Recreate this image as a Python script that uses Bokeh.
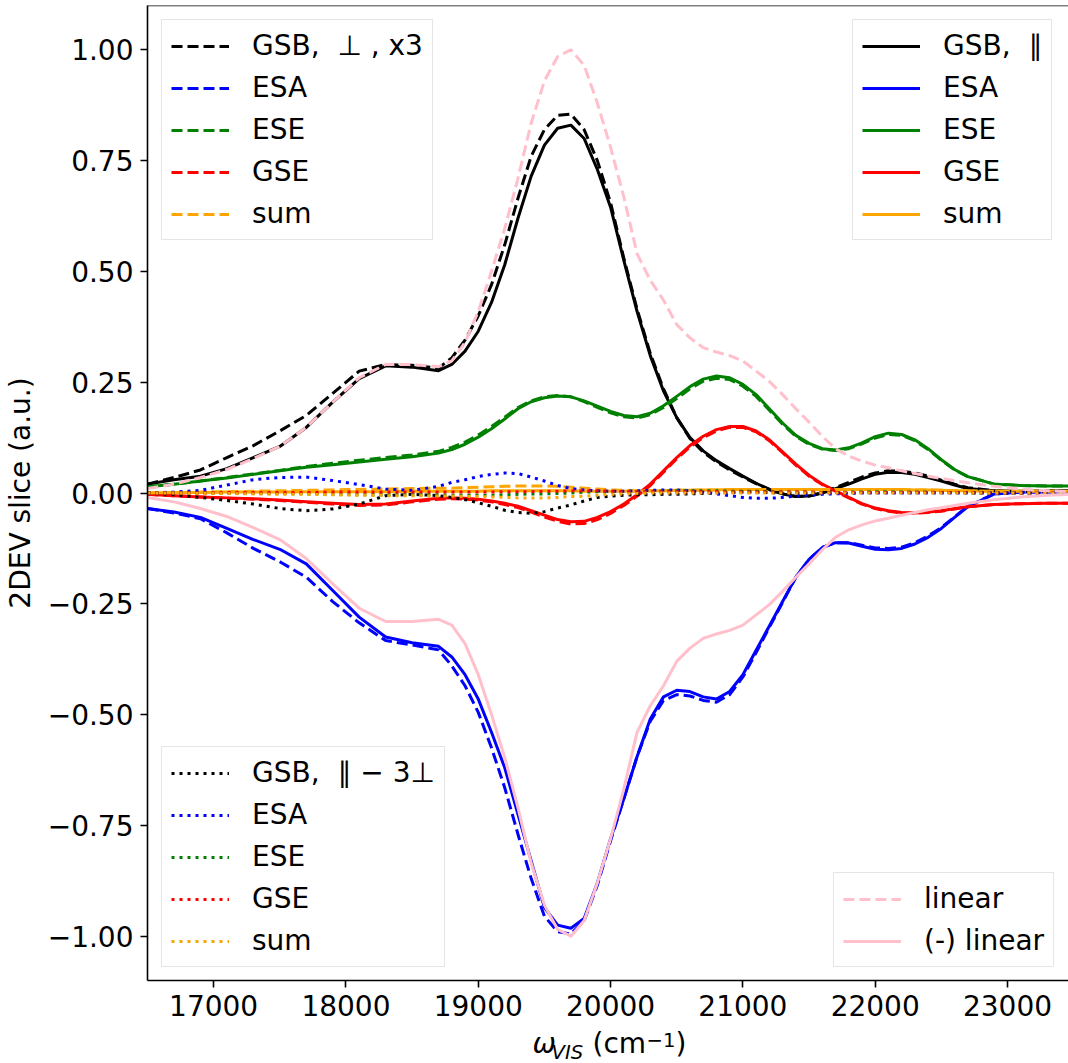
from bokeh.plotting import figure
from bokeh.layouts import column
from bokeh.models import Range1d, FixedTicker, Legend, LegendItem, Label, Span
from bokeh.embed import file_html
from bokeh.resources import INLINE

# ---------------- data ----------------
wavenumber = [16500, 16700, 16900, 17100, 17300, 17500, 17700, 17900, 18100, 18300, 18500, 18700,
              18800, 18900, 19000, 19100, 19200, 19300, 19400, 19500, 19600, 19700,
              19800, 19900, 20000, 20100, 20200, 20300, 20400, 20500, 20600, 20700,
              20800, 20900, 21000, 21100, 21200, 21300, 21400, 21500, 21600, 21700,
              21800, 21900, 22000, 22100, 22200, 22300, 22400, 22500, 22600,
              22700, 22900, 23100, 23300, 23500]

gsb_par = [0.02, 0.03, 0.038, 0.055, 0.08, 0.105, 0.148, 0.205, 0.258, 0.287, 0.284, 0.276,
           0.29, 0.32, 0.365, 0.43, 0.515, 0.62, 0.715, 0.785, 0.823, 0.83,
           0.8, 0.73, 0.645, 0.525, 0.41, 0.31, 0.23, 0.17, 0.125, 0.095,
           0.073, 0.055, 0.038, 0.022, 0.008, -0.002, -0.008, -0.007, 0.0, 0.01,
           0.02, 0.032, 0.042, 0.047, 0.046, 0.042, 0.035, 0.027, 0.018,
           0.01, 0.005, 0.004, 0.005, 0.005]
esa_par = [-0.035, -0.043, -0.055, -0.08, -0.105, -0.127, -0.16, -0.22, -0.28, -0.325, -0.338, -0.346,
           -0.37, -0.41, -0.465, -0.54, -0.62, -0.725, -0.83, -0.935, -0.975, -0.982,
           -0.96, -0.88, -0.78, -0.69, -0.595, -0.51, -0.46, -0.445, -0.448, -0.46,
           -0.465, -0.448, -0.41, -0.355, -0.3, -0.245, -0.19, -0.15, -0.123, -0.112,
           -0.113, -0.12, -0.127, -0.128, -0.125, -0.115, -0.1, -0.08, -0.055,
           -0.031, -0.002, 0.002, 0.002, 0.002]
ese_par = [0.014, 0.02, 0.027, 0.034, 0.042, 0.05, 0.058, 0.064, 0.07, 0.076, 0.082, 0.09,
           0.098, 0.11, 0.126, 0.145, 0.167, 0.19, 0.206, 0.215, 0.219, 0.217,
           0.208, 0.196, 0.184, 0.175, 0.172, 0.18, 0.197, 0.218, 0.24, 0.257,
           0.264, 0.26, 0.245, 0.222, 0.19, 0.158, 0.13, 0.112, 0.1, 0.097,
           0.102, 0.113, 0.127, 0.135, 0.132, 0.12, 0.1, 0.075, 0.053,
           0.037, 0.02, 0.017, 0.016, 0.016]
gse_par = [-0.003, -0.006, -0.009, -0.011, -0.013, -0.016, -0.02, -0.023, -0.026, -0.025, -0.018, -0.012,
           -0.011, -0.012, -0.014, -0.018, -0.023, -0.03, -0.04, -0.05, -0.06, -0.065,
           -0.064, -0.055, -0.042, -0.025, -0.004, 0.02, 0.05, 0.08, 0.107, 0.128,
           0.143, 0.15, 0.15, 0.14, 0.12, 0.093, 0.065, 0.04, 0.02, 0.005,
           -0.01, -0.024, -0.034, -0.04, -0.044, -0.045, -0.043, -0.04, -0.035,
           -0.031, -0.026, -0.024, -0.023, -0.023]
sum_par = [0.0, 0.001, 0.001, 0.002, 0.002, 0.002, 0.003, 0.003, 0.003, 0.003, 0.004, 0.004,
           0.004, 0.004, 0.004, 0.005, 0.005, 0.005, 0.005, 0.005, 0.005, 0.005,
           0.004, 0.004, 0.004, 0.004, 0.004, 0.005, 0.005, 0.006, 0.006, 0.007,
           0.007, 0.008, 0.008, 0.008, 0.008, 0.008, 0.008, 0.008, 0.008, 0.008,
           0.008, 0.008, 0.008, 0.008, 0.008, 0.007, 0.007, 0.006, 0.005,
           0.005, 0.004, 0.004, 0.004, 0.004]

gsb_perp3 = [0.02, 0.035, 0.052, 0.08, 0.107, 0.14, 0.175, 0.225, 0.275, 0.29, 0.288, 0.282,
             0.305, 0.345, 0.4, 0.47, 0.56, 0.665, 0.76, 0.82, 0.852, 0.855,
             0.82, 0.75, 0.655, 0.53, 0.415, 0.315, 0.235, 0.17, 0.123, 0.092,
             0.07, 0.052, 0.036, 0.021, 0.008, -0.002, -0.008, -0.007, 0.001, 0.012,
             0.024, 0.036, 0.045, 0.05, 0.049, 0.045, 0.038, 0.029, 0.02,
             0.012, 0.005, 0.003, 0.004, 0.005]
esa_perp3 = [-0.035, -0.045, -0.058, -0.09, -0.125, -0.155, -0.19, -0.245, -0.293, -0.333, -0.343, -0.354,
             -0.39, -0.435, -0.495, -0.575, -0.665, -0.77, -0.87, -0.955, -0.99, -0.995,
             -0.965, -0.885, -0.785, -0.69, -0.595, -0.515, -0.468, -0.455, -0.458, -0.468,
             -0.472, -0.455, -0.415, -0.36, -0.303, -0.247, -0.19, -0.15, -0.123, -0.112,
             -0.112, -0.118, -0.124, -0.125, -0.122, -0.112, -0.097, -0.078, -0.054,
             -0.03, -0.002, 0.002, 0.002, 0.002]
ese_perp3 = [0.014, 0.02, 0.027, 0.035, 0.043, 0.051, 0.06, 0.067, 0.074, 0.08, 0.086, 0.094,
             0.103, 0.115, 0.131, 0.15, 0.171, 0.193, 0.208, 0.217, 0.22, 0.217,
             0.206, 0.193, 0.181, 0.172, 0.169, 0.177, 0.193, 0.213, 0.235, 0.252,
             0.259, 0.256, 0.241, 0.218, 0.187, 0.155, 0.128, 0.11, 0.099, 0.096,
             0.1, 0.111, 0.124, 0.132, 0.13, 0.118, 0.098, 0.074, 0.052,
             0.037, 0.02, 0.017, 0.016, 0.016]
gse_perp3 = [-0.003, -0.006, -0.009, -0.012, -0.014, -0.017, -0.021, -0.025, -0.028, -0.027, -0.02, -0.014,
             -0.013, -0.014, -0.016, -0.02, -0.026, -0.033, -0.043, -0.054, -0.064, -0.07,
             -0.069, -0.06, -0.046, -0.028, -0.007, 0.017, 0.047, 0.077, 0.104, 0.125,
             0.14, 0.148, 0.148, 0.138, 0.118, 0.091, 0.063, 0.038, 0.019, 0.004,
             -0.011, -0.025, -0.035, -0.041, -0.045, -0.046, -0.044, -0.041, -0.036,
             -0.031, -0.026, -0.024, -0.023, -0.023]
sum_perp3 = [0.0, 0.001, 0.002, 0.003, 0.004, 0.005, 0.006, 0.007, 0.008, 0.009, 0.01, 0.011,
             0.011, 0.012, 0.013, 0.014, 0.015, 0.016, 0.016, 0.016, 0.015, 0.013,
             0.011, 0.009, 0.007, 0.006, 0.005, 0.005, 0.005, 0.006, 0.006, 0.007,
             0.007, 0.008, 0.008, 0.008, 0.008, 0.008, 0.008, 0.008, 0.008, 0.008,
             0.008, 0.008, 0.008, 0.008, 0.008, 0.007, 0.007, 0.006, 0.005,
             0.005, 0.004, 0.004, 0.004, 0.004]

gsb_diff = [0.0, -0.004, -0.01, -0.017, -0.025, -0.035, -0.04, -0.036, -0.025, -0.006, -0.003, -0.006,
            -0.01, -0.015, -0.022, -0.03, -0.039, -0.044, -0.046, -0.042, -0.034, -0.027,
            -0.018, -0.01, -0.007, -0.005, -0.004, -0.004, -0.003, -0.003, -0.002, -0.001,
            0.0, 0.001, 0.002, 0.002, 0.001, 0.0, 0.0, 0.0, 0.0, 0.0,
            0.0, 0.001, 0.001, 0.001, 0.001, 0.001, 0.001, 0.001, 0.001,
            0.001, 0.0, 0.0, 0.0, 0.0]
esa_diff = [0.0, 0.002, 0.006, 0.018, 0.03, 0.035, 0.036, 0.028, 0.019, 0.009, 0.006, 0.015,
            0.024, 0.03, 0.037, 0.042, 0.045, 0.044, 0.036, 0.027, 0.017, 0.01,
            0.007, 0.005, 0.004, 0.004, 0.005, 0.006, 0.007, 0.007, 0.005, 0.002,
            -0.002, -0.006, -0.01, -0.012, -0.012, -0.01, -0.007, -0.005, -0.003, -0.002,
            -0.001, 0.0, 0.0, 0.0, 0.0, 0.0, 0.0, 0.0, 0.0,
            0.0, 0.0, 0.0, 0.0, 0.0]
ese_diff = [0.0, 0.0, 0.0, -0.001, -0.001, -0.001, -0.002, -0.003, -0.004, -0.004, -0.004, -0.004,
            -0.005, -0.005, -0.005, -0.005, -0.004, -0.003, -0.002, -0.002, -0.001, 0.0,
            0.002, 0.003, 0.003, 0.003, 0.003, 0.003, 0.004, 0.005, 0.005, 0.005,
            0.005, 0.004, 0.004, 0.004, 0.003, 0.003, 0.002, 0.002, 0.001, 0.001,
            0.002, 0.002, 0.003, 0.003, 0.002, 0.002, 0.002, 0.001, 0.001,
            0.0, 0.0, 0.0, 0.0, 0.0]
gse_diff = [0.0, 0.0, 0.0, 0.001, 0.001, 0.001, 0.001, 0.002, 0.002, 0.002, 0.002, 0.002,
            0.002, 0.002, 0.002, 0.002, 0.003, 0.003, 0.003, 0.004, 0.004, 0.005,
            0.005, 0.005, 0.004, 0.003, 0.003, 0.003, 0.003, 0.003, 0.003, 0.003,
            0.003, 0.002, 0.002, 0.002, 0.002, 0.002, 0.002, 0.002, 0.001, 0.001,
            0.001, 0.001, 0.001, 0.001, 0.001, 0.001, 0.001, 0.001, 0.001,
            0.001, 0.0, 0.0, 0.0, 0.0]
sum_diff = [0.0, 0.0, -0.001, -0.001, -0.002, -0.003, -0.003, -0.004, -0.005, -0.006, -0.006, -0.007,
            -0.007, -0.008, -0.008, -0.009, -0.01, -0.011, -0.011, -0.011, -0.01, -0.008,
            -0.007, -0.005, -0.003, -0.002, -0.001, 0.0, 0.0, 0.0, 0.0, 0.0,
            0.0, 0.0, 0.0, 0.0, 0.0, 0.0, 0.0, 0.0, 0.0, 0.0,
            0.0, 0.0, 0.0, 0.0, 0.0, 0.0, 0.0, 0.0, 0.0,
            0.0, 0.0, 0.0, 0.0, 0.0]

linear = [0.01, 0.02, 0.035, 0.053, 0.078, 0.105, 0.148, 0.205, 0.26, 0.29, 0.29, 0.285,
          0.298, 0.34, 0.41, 0.5, 0.597, 0.71, 0.835, 0.93, 0.985, 1.0,
          0.965, 0.88, 0.78, 0.668, 0.54, 0.48, 0.435, 0.38, 0.35, 0.328,
          0.318, 0.31, 0.298, 0.275, 0.252, 0.222, 0.19, 0.16, 0.128, 0.1,
          0.083, 0.072, 0.063, 0.057, 0.05, 0.044, 0.038, 0.033, 0.028,
          0.023, 0.015, 0.009, 0.005, 0.003]
neg_linear = [-v for v in linear]

colors = ["black", "blue", "green", "red", "orange"]
solid_labels = ["GSB,  \u2225", "ESA", "ESE", "GSE", "sum"]
dashed_labels = ["GSB,  \u22a5 , x3", "ESA", "ESE", "GSE", "sum"]
dotted_labels = ["GSB,  \u2225 \u2212 3\u22a5", "ESA", "ESE", "GSE", "sum"]
linear_labels = ["linear", "(-) linear"]

x_ticks = [17000, 18000, 19000, 20000, 21000, 22000, 23000]
y_ticks = [-1.0, -0.75, -0.5, -0.25, 0.0, 0.25, 0.5, 0.75, 1.0]
y_tick_labels = ["\u22121.00", "\u22120.75", "\u22120.50", "\u22120.25", "0.00",
                 "0.25", "0.50", "0.75", "1.00"]
y_title = "2DEV slice (a.u.)"

x_start, x_end = 16500, 23461
y_start, y_end = -1.1, 1.1

FONT = "DejaVu Sans"
FS = "28px"
SUB = "19.6px"
LW = 3

p = figure(width=1068, height=1027, x_range=Range1d(x_start, x_end),
           y_range=Range1d(y_start, y_end), output_backend="svg",
           toolbar_location=None, min_border_left=147, min_border_right=0,
           min_border_top=5, min_border_bottom=47)
p.background_fill_color = "white"
p.border_fill_color = "white"
p.outline_line_color = None
p.xgrid.visible = False
p.ygrid.visible = False

for ax in (p.xaxis, p.yaxis):
    ax.minor_tick_line_color = None
    ax.major_tick_out = 7
    ax.major_tick_in = 0
    ax.major_tick_line_width = 1.6
    ax.axis_line_width = 1.6
    ax.axis_line_color = "black"
    ax.major_tick_line_color = "black"
    ax.major_label_text_font = FONT
    ax.major_label_text_font_size = FS
    ax.major_label_text_color = "black"
    ax.major_label_standoff = 7

p.xaxis.ticker = FixedTicker(ticks=x_ticks)
p.xaxis.major_label_overrides = {t: str(t) for t in x_ticks}
p.yaxis.ticker = FixedTicker(ticks=y_ticks)
p.yaxis.major_label_overrides = {t: l for t, l in zip(y_ticks, y_tick_labels)}
p.yaxis.axis_label = y_title
p.yaxis.axis_label_text_font = FONT
p.yaxis.axis_label_text_font_size = FS
p.yaxis.axis_label_text_font_style = "normal"
p.yaxis.axis_label_text_color = "black"
p.yaxis.axis_label_standoff = 8

p.add_layout(Span(location=y_end, dimension="width", line_color="black", line_width=1.6))

par_series = [gsb_par, esa_par, ese_par, gse_par, sum_par]
perp_series = [gsb_perp3, esa_perp3, ese_perp3, gse_perp3, sum_perp3]
diff_series = [gsb_diff, esa_diff, ese_diff, gse_diff, sum_diff]

solid_r, dashed_r, dotted_r = [], [], []
for ys, c in zip(par_series, colors):
    solid_r.append(p.line(wavenumber, ys, line_color=c, line_width=LW, line_join="round"))
for ys, c in zip(perp_series, colors):
    dashed_r.append(p.line(wavenumber, ys, line_color=c, line_width=LW, line_dash="11 5"))
for ys, c in zip(diff_series, colors):
    dotted_r.append(p.line(wavenumber, ys, line_color=c, line_width=LW, line_dash="3 5"))
lin_r = p.line(wavenumber, linear, line_color="pink", line_width=LW, line_dash="11 5")
neglin_r = p.line(wavenumber, neg_linear, line_color="pink", line_width=LW, line_join="round")


def make_legend(labels, renderers, loc):
    leg = Legend(items=[LegendItem(label=l, renderers=[r]) for l, r in zip(labels, renderers)],
                 location=loc)
    leg.label_text_font = FONT
    leg.label_text_font_size = FS
    leg.label_text_color = "black"
    leg.glyph_width = 58
    leg.glyph_height = 28
    leg.label_height = 28
    leg.label_standoff = 23
    leg.spacing = 9
    leg.padding = 9
    leg.margin = 0
    leg.border_line_color = "#cccccc"
    leg.border_line_width = 1.6
    leg.background_fill_color = "white"
    leg.background_fill_alpha = 0.8
    return leg


p.add_layout(make_legend(dashed_labels, dashed_r, (14, 740)))
p.add_layout(make_legend(solid_labels, solid_r, (705, 740)))
p.add_layout(make_legend(dotted_labels, dotted_r, (14, 13)))
p.add_layout(make_legend(linear_labels, [lin_r, neglin_r], (686, 13)))

# ---------------- x axis title strip: omega_VIS (cm^-1) ----------------
p2 = figure(width=1068, height=36, x_range=p.x_range, y_range=Range1d(0, 1),
            x_axis_type=None, y_axis_type=None, output_backend="svg",
            toolbar_location=None, min_border_left=147, min_border_right=0,
            min_border_top=0, min_border_bottom=0)
p2.outline_line_color = None
p2.xgrid.visible = False
p2.ygrid.visible = False
p2.background_fill_color = "white"
p2.border_fill_color = "white"


def lab(text, x, y, size, style="normal"):
    p2.add_layout(Label(x=x, y=y, x_units="screen", y_units="screen", text=text,
                        text_font=FONT, text_font_size=size, text_font_style=style,
                        text_color="black", text_baseline="middle", text_align="left"))


lab("\u03c9", 385, 20, FS, "italic")
lab("VIS", 404, 11, SUB, "italic")
lab("(cm", 445, 20, FS)
lab("\u22121", 499, 24, SUB)
lab(")", 528, 20, FS)

layout = column(p, p2, spacing=0)
open("out.html", "w").write(file_html(layout, INLINE))
